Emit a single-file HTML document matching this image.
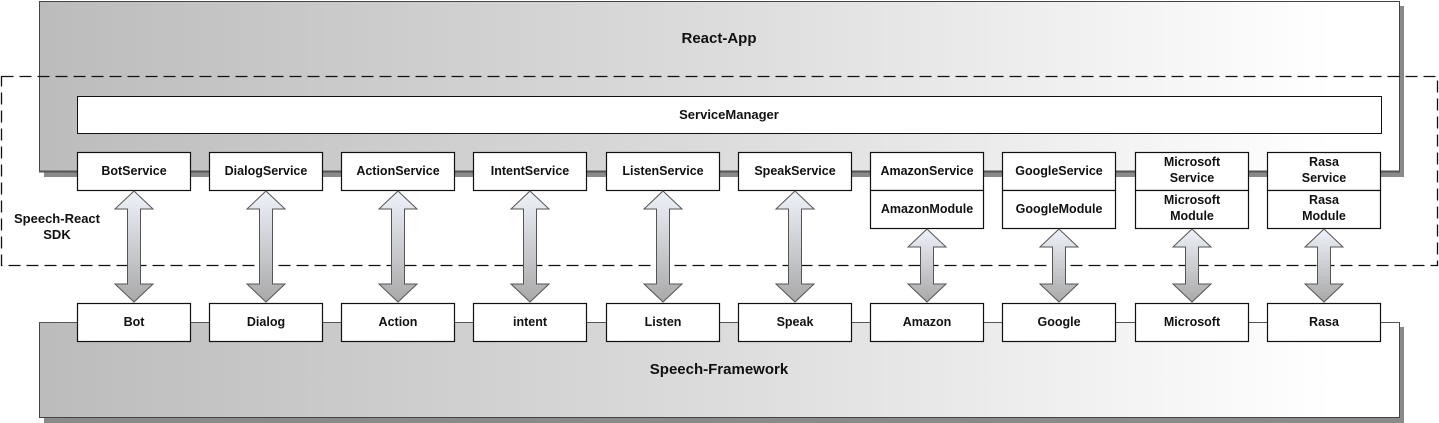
<!DOCTYPE html>
<html><head><meta charset="utf-8"><style>
html,body{margin:0;padding:0;background:#fff;}
svg{display:block;}
text{font-family:"Liberation Sans",Arial,sans-serif;font-weight:bold;fill:#111;text-anchor:middle;}
</style></head><body>
<svg width="1439" height="423" viewBox="0 0 1439 423" xmlns="http://www.w3.org/2000/svg">
<defs>
<linearGradient id="fr" x1="0" y1="0" x2="1" y2="0">
<stop offset="0" stop-color="#bcbcbc"/><stop offset="0.5" stop-color="#dcdcdc"/><stop offset="0.95" stop-color="#ffffff"/><stop offset="1" stop-color="#ffffff"/>
</linearGradient>
<linearGradient id="ar" x1="0" y1="0" x2="0" y2="1">
<stop offset="0" stop-color="#eef2fa"/><stop offset="1" stop-color="#a9a9a9"/>
</linearGradient>
</defs>
<!-- shadows -->
<rect x="44" y="6" width="1360" height="171" fill="#8a8a8a"/>
<rect x="44" y="327" width="1360" height="96" fill="#8a8a8a"/>
<!-- frames -->
<rect x="39.5" y="1.5" width="1360" height="170" fill="url(#fr)" stroke="#444" stroke-width="1"/>
<rect x="39.5" y="322.5" width="1360" height="95" fill="url(#fr)" stroke="#444" stroke-width="1"/>
<text x="719" y="43" font-size="15">React-App</text>
<text x="719" y="374" font-size="15">Speech-Framework</text>
<!-- dashed SDK -->
<rect x="1.5" y="76.5" width="1436" height="189" fill="none" stroke="#111" stroke-width="1.3" stroke-dasharray="12,6"/>
<text x="57" y="223" font-size="13">Speech-React</text>
<text x="57" y="239" font-size="13">SDK</text>
<!-- ServiceManager -->
<rect x="77.5" y="96.5" width="1304" height="37" fill="#fff" stroke="#111"/>
<text x="729" y="119" font-size="13">ServiceManager</text>
<!-- connector lines -->
<line x1="39" y1="171.5" x2="1400" y2="171.5" stroke="#555" stroke-width="2"/>
<line x1="39" y1="322.5" x2="1400" y2="322.5" stroke="#555" stroke-width="1"/>
<g stroke="#111" stroke-width="1.2" fill="#fff">
<rect x="77.5" y="152.5" width="113" height="38"/>
<rect x="209.5" y="152.5" width="113" height="38"/>
<rect x="341.5" y="152.5" width="113" height="38"/>
<rect x="473.5" y="152.5" width="113" height="38"/>
<rect x="606.5" y="152.5" width="113" height="38"/>
<rect x="738.5" y="152.5" width="113" height="38"/>
<rect x="870.5" y="152.5" width="113" height="38"/>
<rect x="1002.5" y="152.5" width="113" height="38"/>
<rect x="1135.5" y="152.5" width="113" height="38"/>
<rect x="1267.5" y="152.5" width="113" height="38"/>
<rect x="870.5" y="190.5" width="113" height="38"/>
<rect x="1002.5" y="190.5" width="113" height="38"/>
<rect x="1135.5" y="190.5" width="113" height="38"/>
<rect x="1267.5" y="190.5" width="113" height="38"/>
<rect x="77.5" y="303.5" width="113" height="38"/>
<rect x="209.5" y="303.5" width="113" height="38"/>
<rect x="341.5" y="303.5" width="113" height="38"/>
<rect x="473.5" y="303.5" width="113" height="38"/>
<rect x="606.5" y="303.5" width="113" height="38"/>
<rect x="738.5" y="303.5" width="113" height="38"/>
<rect x="870.5" y="303.5" width="113" height="38"/>
<rect x="1002.5" y="303.5" width="113" height="38"/>
<rect x="1135.5" y="303.5" width="113" height="38"/>
<rect x="1267.5" y="303.5" width="113" height="38"/>
</g>
<g font-size="12.5">
<text x="134" y="175">BotService</text>
<text x="266" y="175">DialogService</text>
<text x="398" y="175">ActionService</text>
<text x="530" y="175">IntentService</text>
<text x="663" y="175">ListenService</text>
<text x="795" y="175">SpeakService</text>
<text x="927" y="175">AmazonService</text>
<text x="1059" y="175">GoogleService</text>
<text x="1192" y="166">Microsoft</text><text x="1192" y="182">Service</text>
<text x="1324" y="166">Rasa</text><text x="1324" y="182">Service</text>
<text x="927" y="213">AmazonModule</text>
<text x="1059" y="213">GoogleModule</text>
<text x="1192" y="204">Microsoft</text><text x="1192" y="220">Module</text>
<text x="1324" y="204">Rasa</text><text x="1324" y="220">Module</text>
<text x="134" y="326">Bot</text>
<text x="266" y="326">Dialog</text>
<text x="398" y="326">Action</text>
<text x="530" y="326">intent</text>
<text x="663" y="326">Listen</text>
<text x="795" y="326">Speak</text>
<text x="927" y="326">Amazon</text>
<text x="1059" y="326">Google</text>
<text x="1192" y="326">Microsoft</text>
<text x="1324" y="326">Rasa</text>
</g>
<g fill="url(#ar)" stroke="#555" stroke-width="1">
<path d="M134,191 L153,209 L140.5,209 L140.5,284 L153,284 L134,302 L115,284 L127.5,284 L127.5,209 L115,209 Z"/>
<path d="M266,191 L285,209 L272.5,209 L272.5,284 L285,284 L266,302 L247,284 L259.5,284 L259.5,209 L247,209 Z"/>
<path d="M398,191 L417,209 L404.5,209 L404.5,284 L417,284 L398,302 L379,284 L391.5,284 L391.5,209 L379,209 Z"/>
<path d="M530,191 L549,209 L536.5,209 L536.5,284 L549,284 L530,302 L511,284 L523.5,284 L523.5,209 L511,209 Z"/>
<path d="M663,191 L682,209 L669.5,209 L669.5,284 L682,284 L663,302 L644,284 L656.5,284 L656.5,209 L644,209 Z"/>
<path d="M795,191 L814,209 L801.5,209 L801.5,284 L814,284 L795,302 L776,284 L788.5,284 L788.5,209 L776,209 Z"/>
<path d="M927,229 L946,247 L933.5,247 L933.5,284 L946,284 L927,302 L908,284 L920.5,284 L920.5,247 L908,247 Z"/>
<path d="M1059,229 L1078,247 L1065.5,247 L1065.5,284 L1078,284 L1059,302 L1040,284 L1052.5,284 L1052.5,247 L1040,247 Z"/>
<path d="M1192,229 L1211,247 L1198.5,247 L1198.5,284 L1211,284 L1192,302 L1173,284 L1185.5,284 L1185.5,247 L1173,247 Z"/>
<path d="M1324,229 L1343,247 L1330.5,247 L1330.5,284 L1343,284 L1324,302 L1305,284 L1317.5,284 L1317.5,247 L1305,247 Z"/>
</g>
</svg>
</body></html>
